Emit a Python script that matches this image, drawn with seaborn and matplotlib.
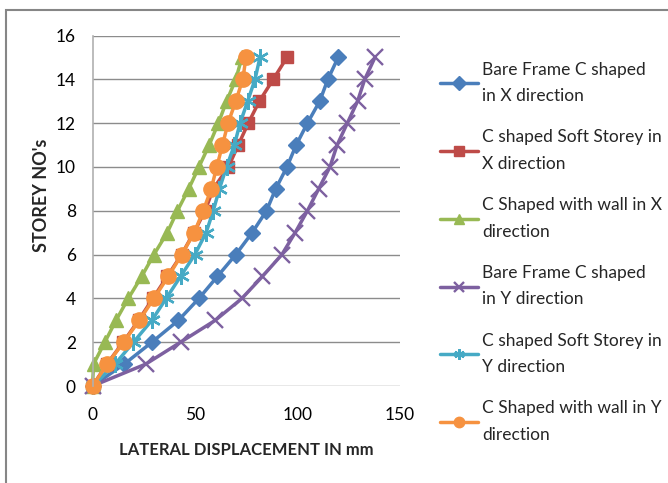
import matplotlib
matplotlib.use("Agg")
import matplotlib.pyplot as plt
import matplotlib.patches as mpatches
import seaborn as sns
import pandas as pd

# Storey levels (ground = 0 up to roof = 15)
storeys = list(range(16))

# Lateral displacement (mm) at each storey
bare_frame_x = [0, 15.5, 29, 42, 52, 61, 70, 78, 85, 89.5, 95, 99.5, 105, 111, 115, 120]
soft_storey_x = [0, 7, 15, 22.5, 29.5, 36.5, 43.5, 49.5, 55, 59, 66.4, 71.2, 76.1, 81.5, 88.3, 95]
with_wall_x = [0, 0.5, 6, 11.5, 17.5, 24, 30, 36.5, 41.5, 47, 52, 57, 61.5, 65.5, 70, 73]
bare_frame_y = [0, 26, 43, 60, 73, 83, 92.5, 99, 105, 110.5, 116, 119.5, 124.5, 129.5, 133, 138]
soft_storey_y = [0, 11, 20, 29, 36, 43, 50, 55.5, 59, 62, 65.5, 69.3, 72.1, 75.8, 79.4, 81.8]
with_wall_y = [0, 7.2, 15.2, 22.9, 30, 37, 43.6, 49.7, 54.1, 58, 60.7, 63.5, 66.2, 70, 73.4, 75]

series_names = [
    "Bare Frame C shaped\nin X direction",
    "C shaped Soft Storey in\nX direction",
    "C Shaped with wall in X\ndirection",
    "Bare Frame C shaped\nin Y direction",
    "C shaped Soft Storey in\nY direction",
    "C Shaped with wall in Y\ndirection",
]
series_values = [bare_frame_x, soft_storey_x, with_wall_x,
                 bare_frame_y, soft_storey_y, with_wall_y]

x_ticks = [0, 50, 100, 150]
y_ticks = [0, 2, 4, 6, 8, 10, 12, 14, 16]

colors = ["#4A7EBB", "#BE4B48", "#98B954", "#7D60A0", "#46AAC5", "#F69240"]
markers = ["D", "s", "^", "x", (6, 2, 0), "o"]
msizes = [8, 9, 10, 11, 12, 11]
medges = [1, 1, 1, 1.7, 1.7, 1]

sns.set_theme(style="white")
plt.rcParams["font.family"] = ["Lato", "DejaVu Sans"]

fig = plt.figure(figsize=(6.68, 4.83), dpi=100)
ax = fig.add_axes([0.1385, 0.2008, 0.4596, 0.7257])

for name, vals, c, m, ms, mew in zip(series_names, series_values, colors,
                                     markers, msizes, medges):
    df = pd.DataFrame({"disp": vals, "storey": storeys})
    sns.lineplot(data=df, x="disp", y="storey", ax=ax, sort=False,
                 estimator=None, color=c, lw=2.5, marker=m, markersize=ms,
                 markeredgecolor=c, markeredgewidth=mew, label=name,
                 clip_on=False)

ax.set_xlim(0, 150)
ax.set_ylim(0, 16)
ax.set_xticks(x_ticks)
ax.set_yticks(y_ticks)
ax.tick_params(axis="both", length=0, labelsize=12.5, colors="#000000")
ax.tick_params(axis="x", pad=15)
ax.tick_params(axis="y", pad=12)

ax.yaxis.grid(True, color="#8c8c8c", lw=1)
ax.xaxis.grid(False)
for side in ["top", "right", "bottom"]:
    ax.spines[side].set_visible(False)
ax.spines["left"].set_color("#b0b0b0")
ax.spines["left"].set_linewidth(1.2)
ax.set_axisbelow(True)

ax.set_xlabel("LATERAL DISPLACEMENT IN mm", fontsize=12, fontweight="bold")
ax.set_ylabel("STOREY NO's", fontsize=13, fontweight="bold")
ax.xaxis.set_label_coords(0.5, -0.16)
ax.yaxis.set_label_coords(-0.14, 0.545)

leg = ax.legend(loc="upper left", bbox_to_anchor=(1.11, 0.945), frameon=False,
                fontsize=12.5, handlelength=2.2, handletextpad=0.2,
                labelspacing=1.46, borderaxespad=0)
for t in leg.get_texts():
    t.set_linespacing(1.8)
for h in leg.legend_handles:
    h.set_markersize(7.5)

# Chart-area border (left and top edges visible)
fig.patches.append(mpatches.Rectangle((6 / 668, -0.1), 1.2, 1 - 10 / 483 + 0.1,
                                      transform=fig.transFigure, fill=False,
                                      edgecolor="#868686", lw=1.5))

fig.savefig("out.png", dpi=100)
